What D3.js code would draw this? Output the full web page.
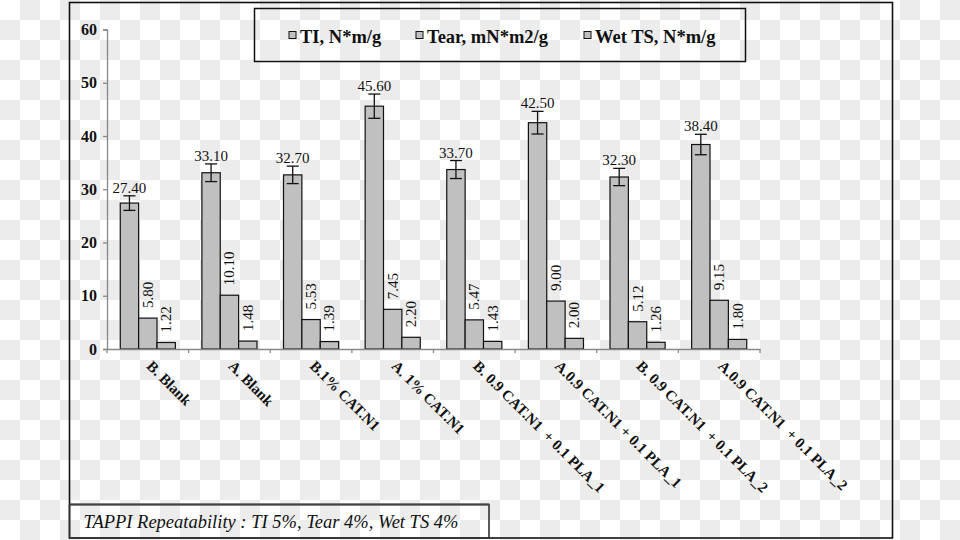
<!DOCTYPE html>
<html><head><meta charset="utf-8">
<script src="https://cdn.jsdelivr.net/npm/d3@7"></script>
<style>body{margin:0;padding:0;overflow:hidden}svg{display:block}</style>
</head><body><svg id="c" width="960" height="540"></svg>
<script>
const categories = ["B. Blank","A. Blank","B.1% CAT.N1","A. 1% CAT.N1","B. 0.9 CAT.N1  + 0.1 PLA_1","A.0.9 CAT.N1 + 0.1 PLA_1","B. 0.9 CAT.N1  + 0.1 PLA_2","A.0.9 CAT.N1  + 0.1 PLA_2"];
const seriesNames = ["TI, N*m/g","Tear, mN*m2/g","Wet TS, N*m/g"];
const tiValues = [27.40,33.10,32.70,45.60,33.70,42.50,32.30,38.40];
const tearValues = [5.80,10.10,5.53,7.45,5.47,9.00,5.12,9.15];
const wetValues = [1.22,1.48,1.39,2.20,1.43,2.00,1.26,1.80];
const tiErrors = [1.37,1.66,1.64,2.28,1.69,2.13,1.62,1.92];
const yTicks = [0,10,20,30,40,50,60];
const noteText = "TAPPI Repeatability : TI 5%, Tear 4%, Wet TS 4%";

const series = [tiValues, tearValues, wetValues];
const svg = d3.select("#c");
const serif = "'Liberation Serif','Times New Roman',serif";

// checkerboard background
const defs = svg.append("defs");
const pat = defs.append("pattern").attr("id","chk").attr("width",40).attr("height",40).attr("patternUnits","userSpaceOnUse");
pat.append("rect").attr("width",40).attr("height",40).attr("fill","#ffffff");
pat.append("rect").attr("x",20).attr("y",0).attr("width",20).attr("height",20).attr("fill","#ececec");
pat.append("rect").attr("x",0).attr("y",20).attr("width",20).attr("height",20).attr("fill","#ececec");
svg.append("rect").attr("width",960).attr("height",540).attr("fill","url(#chk)");

// outer frame
svg.append("rect").attr("x",69.5).attr("y",2.5).attr("width",823).attr("height",535.5)
  .attr("fill","none").attr("stroke","#111").attr("stroke-width",1.6);

const x0 = d3.scaleBand().domain(categories).range([107,760]).paddingInner(0).paddingOuter(0);
const gw = x0.bandwidth()*0.675;
const x1 = d3.scaleBand().domain([0,1,2]).range([0,gw]);
const y = d3.scaleLinear().domain([0,60]).range([349,29.5]);

// y axis
const yAxis = svg.append("g").attr("transform","translate(107,0)")
  .call(d3.axisLeft(y).tickValues(yTicks).tickSize(4).tickPadding(6).tickFormat(d3.format("d")));
yAxis.select(".domain").attr("stroke","#888").attr("stroke-width",1.3);
yAxis.selectAll(".tick line").attr("stroke","#888").attr("stroke-width",1.3);
yAxis.selectAll("text").attr("font-family",serif).attr("font-weight","bold").attr("font-size","16px").attr("fill","#111");

// bars
const groups = svg.append("g").selectAll("g").data(categories).join("g")
  .attr("transform",d=>`translate(${x0(d)+(x0.bandwidth()-gw)/2},0)`);
groups.each(function(cat,i){
  const g = d3.select(this);
  series.forEach((vals,s)=>{
    const v = vals[i];
    g.append("rect").attr("x",x1(s)).attr("y",y(v)).attr("width",x1.bandwidth()).attr("height",y(0)-y(v))
      .attr("fill","#c0c0c0").attr("stroke","#111").attr("stroke-width",1.2);
  });
  // error bar on TI
  const cx = x1(0)+x1.bandwidth()/2, v = tiValues[i], e = tiErrors[i];
  g.append("line").attr("x1",cx).attr("x2",cx).attr("y1",y(v+e)).attr("y2",y(v-e)).attr("stroke","#111").attr("stroke-width",1.3);
  [v+e,v-e].forEach(t=>g.append("line").attr("x1",cx-6).attr("x2",cx+6).attr("y1",y(t)).attr("y2",y(t)).attr("stroke","#111").attr("stroke-width",1.3));
  g.append("text").attr("x",cx).attr("y",y(v+e)-3).attr("text-anchor","middle")
    .attr("font-family",serif).attr("font-size","15px").attr("fill","#111").text(v.toFixed(2));
  [1,2].forEach(s=>{
    const vv = series[s][i];
    const bx = x1(s)+x1.bandwidth()/2+5, by = y(vv)-10;
    g.append("text").attr("transform",`translate(${bx},${by}) rotate(-90)`).attr("text-anchor","start")
      .attr("font-family",serif).attr("font-size","15px").attr("fill","#111").text(vv.toFixed(2));
  });
});

// x axis
const xAxis = svg.append("g").attr("transform","translate(0,349)")
  .call(d3.axisBottom(x0).tickSize(0).tickFormat(""));
xAxis.select(".domain").attr("stroke","#888").attr("stroke-width",1.3);
xAxis.selectAll(".tick").remove();
const bounds = categories.map(c=>x0(c)).concat([x0.range()[1]]);
xAxis.selectAll("line.b").data(bounds).join("line").attr("class","b")
  .attr("x1",d=>d).attr("x2",d=>d).attr("y1",0).attr("y2",4).attr("stroke","#888").attr("stroke-width",1.3);
svg.append("g").selectAll("text").data(categories).join("text")
  .attr("transform",d=>`translate(${x0(d)+x0.bandwidth()/2-2},${367}) rotate(45)`)
  .attr("text-anchor","start").attr("font-family",serif).attr("font-weight","bold").attr("font-size","15px")
  .attr("fill","#111").attr("xml:space","preserve").style("white-space","pre").text(d=>d);

// legend
svg.append("rect").attr("x",254.5).attr("y",8.5).attr("width",491).attr("height",53)
  .attr("fill","none").attr("stroke","#111").attr("stroke-width",1.5);
const legX = [289,416,584];
seriesNames.forEach((n,i)=>{
  svg.append("rect").attr("x",legX[i]).attr("y",31.5).attr("width",7).attr("height",7)
    .attr("fill","#c0c0c0").attr("stroke","#111").attr("stroke-width",1);
  svg.append("text").attr("x",legX[i]+11).attr("y",42.7).attr("font-family",serif).attr("font-weight","bold")
    .attr("font-size","18.5px").attr("fill","#111").text(n);
});

// note box
svg.append("rect").attr("x",69.5).attr("y",504.5).attr("width",419.5).attr("height",33.5)
  .attr("fill","none").attr("stroke","#333").attr("stroke-width",1.6);
svg.append("line").attr("x1",69.5).attr("x2",489).attr("y1",504.5).attr("y2",504.5).attr("stroke","#444").attr("stroke-width",2.2);
svg.append("text").attr("x",83.5).attr("y",528).attr("font-family",serif).attr("font-style","italic")
  .attr("font-size","18.5px").attr("fill","#111").text(noteText);
</script></body></html>
